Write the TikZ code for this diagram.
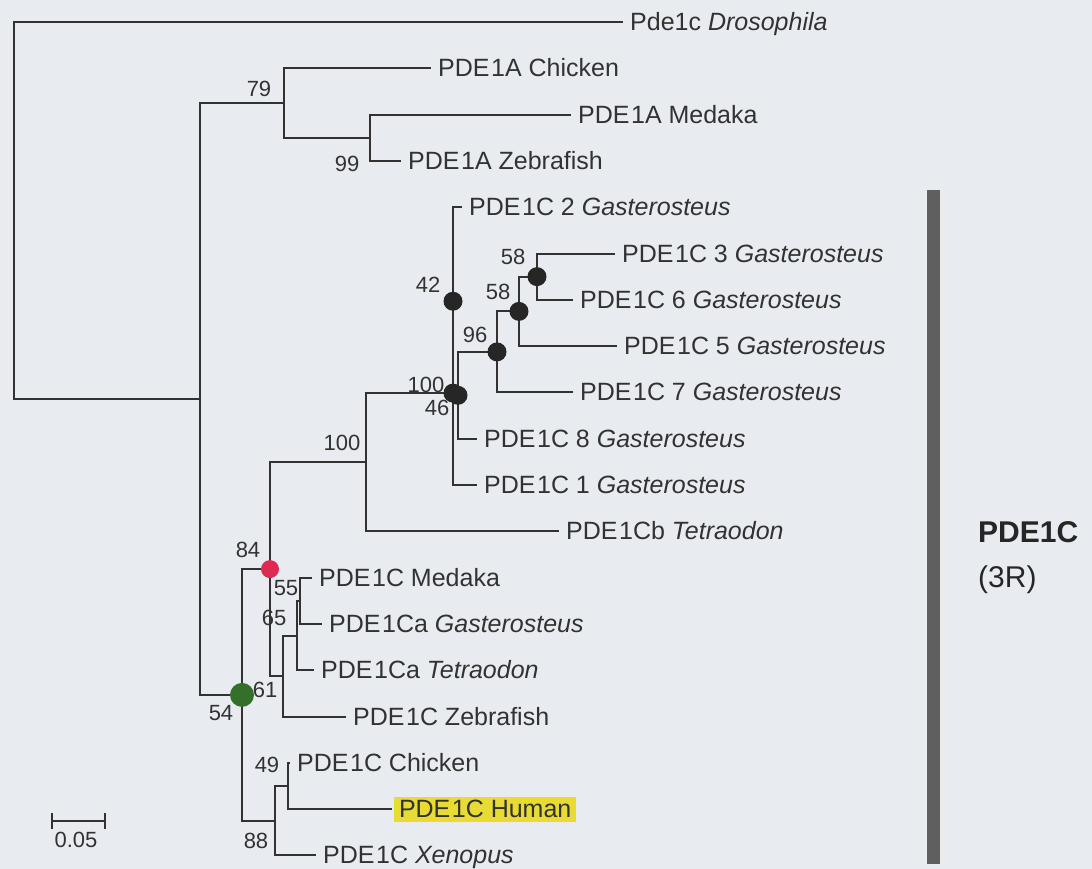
\documentclass[tikz,border=0pt]{standalone}
\usepackage{fontspec}
\setmainfont{Liberation Sans}
\usetikzlibrary{positioning,arrows.meta}
\definecolor{paper}{RGB}{232,236,241}
\definecolor{ink}{RGB}{50,50,50}
\definecolor{barGray}{RGB}{95,95,95}
\definecolor{dotRed}{RGB}{222,42,82}
\definecolor{dotGreen}{RGB}{52,112,42}
\definecolor{markYellow}{RGB}{232,220,52}
\newcommand{\pde}{PDE\kern1.5pt}

\begin{document}
\begin{tikzpicture}[x=1pt, y=-1pt,
  branch/.style={draw=ink, line width=2pt},
  leaf/.style={anchor=west, inner xsep=7pt, inner ysep=0pt, text height=17pt, text depth=0pt, text=ink, font=\fontsize{25}{25}\selectfont},
  boot/.style={inner sep=0pt, text=ink, font=\fontsize{22}{22}\selectfont},
  dot/.style={circle, fill=black!85, minimum size=19pt, inner sep=0pt},
  clade/.style={anchor=west, inner sep=0pt, text=black!85, font=\fontsize{30}{30}\selectfont}
]
\fill[paper] (0,0) rectangle (1092,869);
\useasboundingbox (0,0) rectangle (1092,869);

% inner nodes of the tree
\coordinate (root) at (14,210.5);
\coordinate (n1) at (200,399);
\coordinate (n79) at (284,103);
\coordinate (n99) at (370,137.75);
\coordinate (n54) at (242,694.9);
\coordinate (n84) at (270,569.1);
\coordinate (n100a) at (366,462.2);
\coordinate (n100b) at (453,393.1);
\coordinate (n42) at (453,301.25);
\coordinate (n46) at (458,395.3);
\coordinate (n96) at (497,351.9);
\coordinate (n58b) at (519,311.4);
\coordinate (n58a) at (537,276.65);
\coordinate (n61) at (283,676);
\coordinate (n65) at (297,635.5);
\coordinate (n55) at (300,600.75);
\coordinate (n88) at (275,820.7);
\coordinate (n49) at (288,786);

% leaves
\node[leaf] (dro) at (623,22) {Pde1c \textit{Drosophila}};
\node[leaf] (aChk) at (431,68.3) {\pde1A Chicken};
\node[leaf] (aMed) at (571,114.6) {\pde1A Medaka};
\node[leaf] (aZeb) at (401,160.9) {\pde1A Zebrafish};
\node[leaf] (g2) at (462,207.2) {\pde1C 2 \textit{Gasterosteus}};
\node[leaf] (g3) at (615,253.5) {\pde1C 3 \textit{Gasterosteus}};
\node[leaf] (g6) at (573,299.8) {\pde1C 6 \textit{Gasterosteus}};
\node[leaf] (g5) at (617,346.1) {\pde1C 5 \textit{Gasterosteus}};
\node[leaf] (g7) at (573,392.4) {\pde1C 7 \textit{Gasterosteus}};
\node[leaf] (g8) at (477,438.7) {\pde1C 8 \textit{Gasterosteus}};
\node[leaf] (g1) at (477,485) {\pde1C 1 \textit{Gasterosteus}};
\node[leaf] (cbTet) at (559,531.3) {\pde1Cb \textit{Tetraodon}};
\node[leaf] (cMed) at (312,577.6) {\pde1C Medaka};
\node[leaf] (caGas) at (322,623.9) {\pde1Ca \textit{Gasterosteus}};
\node[leaf] (caTet) at (314,670.2) {\pde1Ca \textit{Tetraodon}};
\node[leaf] (cZeb) at (346,716.5) {\pde1C Zebrafish};
\node[leaf] (cChk) at (290,762.8) {\pde1C Chicken};
\node[leaf, fill=markYellow, inner xsep=5pt, inner ysep=4pt, outer xsep=2pt] (cHum) at (392,809.1) {\pde1C Human};
\node[leaf] (cXen) at (316,855.4) {\pde1C \textit{Xenopus}};

% branches
\foreach \p/\c in {root/dro.west, root/n1, n1/n79, n1/n54,
  n79/aChk.west, n79/n99, n99/aMed.west, n99/aZeb.west,
  n54/n84, n54/n88, n84/n100a, n84/n61,
  n100a/n100b, n100a/cbTet.west, n100b/n42, n100b/g1.west,
  n42/g2.west, n42/n46, n46/n96, n46/g8.west,
  n96/n58b, n96/g7.west, n58b/n58a, n58b/g5.west,
  n58a/g3.west, n58a/g6.west,
  n61/n65, n61/cZeb.west, n65/n55, n65/caTet.west,
  n55/cMed.west, n55/caGas.west,
  n88/n49, n88/cXen.west, n49/cChk.west, n49/cHum.west}
  \draw[branch] (\p) |- (\c);

% marked nodes
\node[dot] (d42) at (n42) {};
\node[dot] (d58a) at (n58a) {};
\node[dot] (d58b) at (n58b) {};
\node[dot] (d96) at (n96) {};
\node[dot] (d100b) at (n100b) {};
\node[dot] (d46) at (n46) {};
\node[dot, fill=dotRed, minimum size=18pt] (d84) at (n84) {};
\node[dot, fill=dotGreen, minimum size=24pt] (d54) at (n54) {};

% bootstrap values
\node[boot] (b79) at (259,89) {79};
\node[boot] (b99) at (347,164) {99};
\node[boot] (b42) at (428,285) {42};
\node[boot] (b58a) at (513,257) {58};
\node[boot] (b58b) at (498,292) {58};
\node[boot] (b96) at (475,335) {96};
\node[boot] (b100b) at (426,385) {100};
\node[boot] (b46) at (437,408) {46};
\node[boot] (b100a) at (342,443) {100};
\node[boot] (b84) at (248,550) {84};
\node[boot] (b55) at (286,588) {55};
\node[boot] (b65) at (274,618) {65};
\node[boot] (b61) at (265,690) {61};
\node[boot] (b54) at (221,713) {54};
\node[boot] (b49) at (267,765) {49};
\node[boot] (b88) at (256,841) {88};

% scale bar
\coordinate (sbL) at (51,821);
\coordinate (sbR) at (106,821);
\draw[branch, {Bar[width=16pt]}-{Bar[width=16pt]}] (sbL) -- (sbR);
\node[boot] (sbText) at (76,840) {0.05};

% clade bar
\fill[barGray] (927,190) rectangle (940,864);
\node[clade, font=\fontsize{30}{30}\selectfont\bfseries] (cladeName) at (978,532) {PDE1C};
\node[clade] (cladeRank) at (978,580) {(3R)};
\end{tikzpicture}
\end{document}
